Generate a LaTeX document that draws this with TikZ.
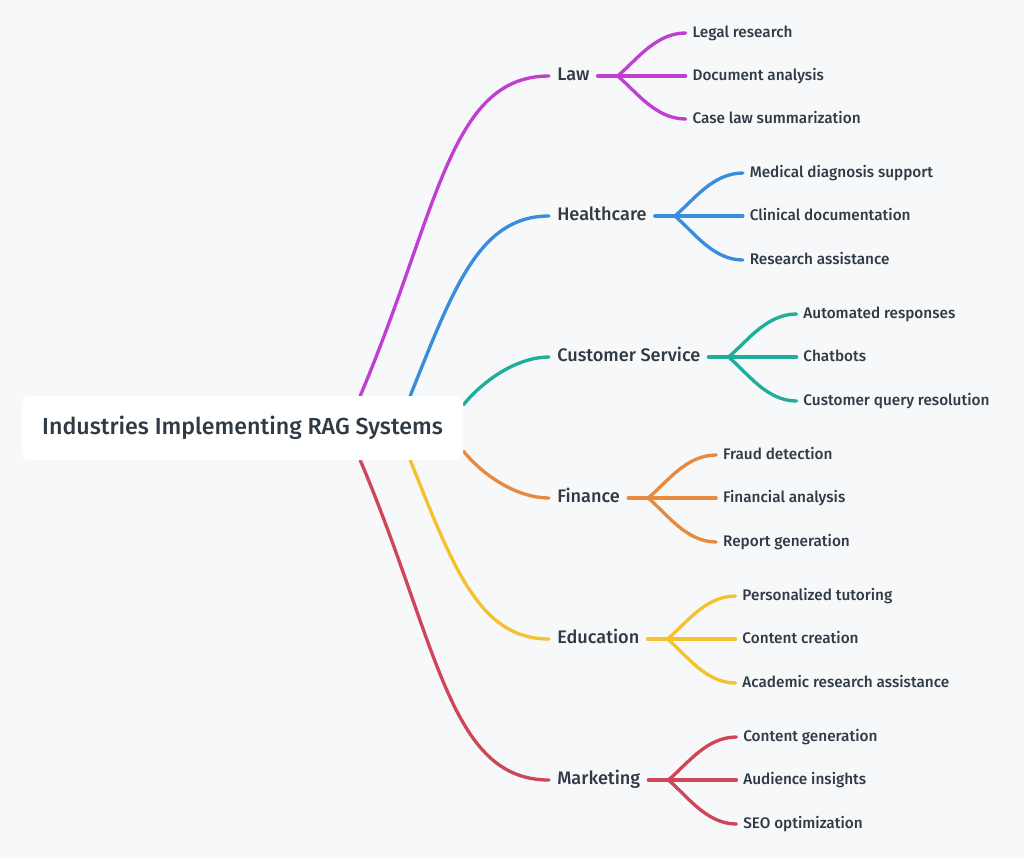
\documentclass[tikz,border=0pt]{standalone}
\usepackage{fontspec}
\setmainfont{Fira Sans}[UprightFont={* Medium}]
\usetikzlibrary{calc, backgrounds}
\definecolor{pagebg}{HTML}{F7F8FA}
\definecolor{inkgray}{HTML}{2F3A45}
\definecolor{lawpink}{HTML}{C03FD2}
\definecolor{healthblue}{HTML}{3A8DDA}
\definecolor{serviceteal}{HTML}{1FAF98}
\definecolor{financeorange}{HTML}{E88A3E}
\definecolor{eduyellow}{HTML}{F4C22E}
\definecolor{marketred}{HTML}{D04659}

\begin{document}
\begin{tikzpicture}[
    x=0.75pt, y=-0.75pt,
    every node/.style={text=inkgray, inner sep=0pt},
    rootbox/.style={fill=white, rounded corners=5pt, minimum width=330.75pt, minimum height=48pt, font=\fontsize{17.4}{21}\selectfont},
    topic/.style={anchor=west, inner xsep=6pt, text height=0.69em, text depth=0pt, font=\fontsize{13.6}{16}\selectfont},
    leaf/.style={anchor=west, inner xsep=5pt, text height=0.69em, text depth=0pt, font=\fontsize{11.5}{14}\selectfont},
    link/.style={line width=2.5pt, line cap=round}
  ]
  % central topic
  \node[rootbox] (root) at (242.5,428) {Industries Implementing RAG Systems};

  % industries
  \node[topic] (law) at (549,76) {Law};
  \node[topic] (health) at (549,216) {Healthcare};
  \node[topic] (service) at (549,357) {Customer Service};
  \node[topic] (finance) at (549,498) {Finance};
  \node[topic] (edu) at (549,639) {Education};
  \node[topic] (market) at (549,780) {Marketing};

  % fork points
  \foreach \b in {law, health, service, finance, edu, market}
    \coordinate (\b-f) at ($(\b.east)+(20,0)$);

  % use cases
  \node[leaf] (law1) at ($(law-f)+(68,-43)$) {Legal research};
  \node[leaf] (law2) at ($(law-f)+(68,0)$) {Document analysis};
  \node[leaf] (law3) at ($(law-f)+(68,43)$) {Case law summarization};

  \node[leaf] (health1) at ($(health-f)+(68,-43)$) {Medical diagnosis support};
  \node[leaf] (health2) at ($(health-f)+(68,0)$) {Clinical documentation};
  \node[leaf] (health3) at ($(health-f)+(68,44)$) {Research assistance};

  \node[leaf] (service1) at ($(service-f)+(68,-43)$) {Automated responses};
  \node[leaf] (service2) at ($(service-f)+(68,0)$) {Chatbots};
  \node[leaf] (service3) at ($(service-f)+(68,44)$) {Customer query resolution};

  \node[leaf] (finance1) at ($(finance-f)+(68,-43)$) {Fraud detection};
  \node[leaf] (finance2) at ($(finance-f)+(68,0)$) {Financial analysis};
  \node[leaf] (finance3) at ($(finance-f)+(68,44)$) {Report generation};

  \node[leaf] (edu1) at ($(edu-f)+(68,-43)$) {Personalized tutoring};
  \node[leaf] (edu2) at ($(edu-f)+(68,0)$) {Content creation};
  \node[leaf] (edu3) at ($(edu-f)+(68,44)$) {Academic research assistance};

  \node[leaf] (market1) at ($(market-f)+(68,-43)$) {Content generation};
  \node[leaf] (market2) at ($(market-f)+(68,0)$) {Audience insights};
  \node[leaf] (market3) at ($(market-f)+(68,44)$) {SEO optimization};

  \begin{pgfonlayer}{background}
    \fill[pagebg] (0,0) rectangle (1024,858);
    % main branches, from the box edge
    \coordinate (law-s) at ($(root.north east)+(-103,0)$);
    \coordinate (health-s) at ($(root.north east)+(-53,0)$);
    \coordinate (service-s) at ($(root.east)+(0,-23)$);
    \coordinate (finance-s) at ($(root.east)+(0,23)$);
    \coordinate (edu-s) at ($(root.south east)+(-53,0)$);
    \coordinate (market-s) at ($(root.south east)+(-103,0)$);
    \draw[link, lawpink] (law-s) .. controls +(78,-184) and +(-100,0) .. (law.west);
    \draw[link, healthblue] (health-s) .. controls +(43,-107) and +(-70,0) .. (health.west);
    \draw[link, serviceteal] (service-s) .. controls +(22,-27) and +(-30,0) .. (service.west);
    \draw[link, financeorange] (finance-s) .. controls +(22,27) and +(-30,0) .. (finance.west);
    \draw[link, eduyellow] (edu-s) .. controls +(43,107) and +(-70,0) .. (edu.west);
    \draw[link, marketred] (market-s) .. controls +(78,184) and +(-100,0) .. (market.west);
  \end{pgfonlayer}

  % forks to the use cases
  \foreach \b/\c in {law/lawpink, health/healthblue, service/serviceteal,
                     finance/financeorange, edu/eduyellow, market/marketred} {
    \draw[link, \c] (\b.east) -- (\b-f) -- (\b2.west);
    \draw[link, \c] (\b-f) .. controls +(19,-16) and +(-30,0) .. (\b1.west);
    \draw[link, \c] (\b-f) .. controls +(19,16) and +(-30,0) .. (\b3.west);
  }
\end{tikzpicture}
\end{document}
